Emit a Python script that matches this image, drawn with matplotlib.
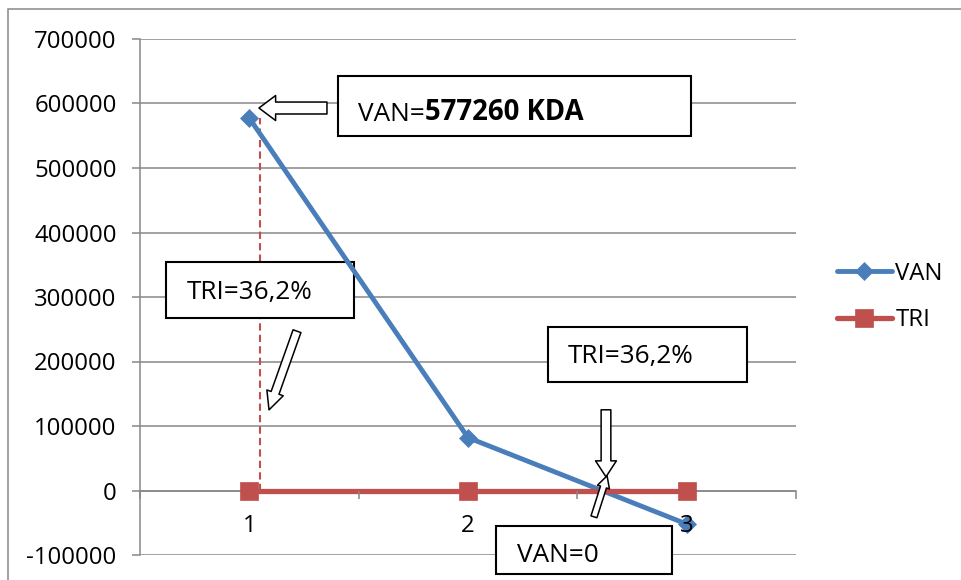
import matplotlib
matplotlib.use("Agg")
import matplotlib.pyplot as plt
from matplotlib.patches import Rectangle, FancyArrowPatch

plt.rcParams['font.family'] = ['Open Sans', 'DejaVu Sans']
plt.rcParams['axes.unicode_minus'] = False

periods = [1, 2, 3]
van = [577260, 82000, -52000]
tri = [0, 0, 0]
tri_text = "TRI=36,2%"

BLUE = "#4A7EBB"
RED = "#C0504D"
GREY = "#888888"

fig = plt.figure(figsize=(9.61, 5.8), dpi=100)
ax = fig.add_axes([140 / 961, 1 - 555 / 580, 656 / 961, 516 / 580])

ax.set_xlim(0.5, 3.5)
ax.set_ylim(-100000, 700000)
ax.set_yticks(range(-100000, 700001, 100000))
ax.set_xticks(periods)
ax.set_xticks([0.5, 1.5, 2.5, 3.5], minor=True)

for s in ['top', 'right']:
    ax.spines[s].set_visible(False)
ax.spines['left'].set_color(GREY)
ax.spines['left'].set_linewidth(1.1)
ax.spines['bottom'].set_position(('data', 0))
ax.spines['bottom'].set_color(GREY)
ax.spines['bottom'].set_linewidth(1.1)

ax.yaxis.grid(True, color=GREY, linewidth=1.1)
ax.tick_params(axis='y', length=5.8, width=1.1, color=GREY, pad=11, labelsize=17.3)
ax.tick_params(axis='x', which='major', length=0, pad=17, labelsize=17.3)
ax.tick_params(axis='x', which='minor', length=5.8, width=1.1, color=GREY, direction='out')
ax.xaxis.set_zorder(6)

# dashed guide at the first period
ax.vlines(1.05, 0, van[0], colors=RED, linestyles=(0, (3.5, 2)), linewidth=1.5, zorder=2)

ax.plot(periods, van, color=BLUE, linewidth=3.5, marker='D', markersize=9.5,
        markeredgewidth=0.5, label='VAN', zorder=4, solid_capstyle='round')
ax.plot(periods, tri, color=RED, linewidth=3.8, marker='s', markersize=13.5,
        markeredgewidth=0.5, label='TRI', zorder=4, solid_capstyle='round')

# annotation boxes
boxes = [
    (1.405, 550000, 1.615, 93000),
    (0.619, 267600, 0.860, 86800),
    (2.366, 168500, 0.910, 85300),
    (2.128, -130000, 0.805, 75300),
]
for x0, y0, w, h in boxes:
    ax.add_patch(Rectangle((x0, y0), w, h, facecolor='white', edgecolor='black',
                           linewidth=1.5, zorder=3, clip_on=False))

t = ax.text(1.497, 583000, "VAN=", fontsize=18.8, va='center', ha='left', zorder=5)
ax.annotate(f"{van[0]} KDA", xy=(1, 0), xycoords=t, va='bottom', ha='left',
            fontsize=19.8, fontweight='bold', zorder=5)
ax.text(0.715, 307600, tri_text, fontsize=18.8, va='center', ha='left', zorder=5)
ax.text(2.457, 207300, tri_text, fontsize=18.8, va='center', ha='left', zorder=5)
ax.text(2.224, -101000, "VAN=0", fontsize=18.8, va='center', ha='left', zorder=5,
        clip_on=False)

# block arrows
arrows = [
    ((1.355, 593000), (1.044, 593000), 8.6, 18, 12),
    ((1.218, 247000), (1.090, 125000), 6, 12.5, 13),
    ((2.631, 125100), (2.631, 21200), 7, 15, 11.5),
    ((2.576, -40800), (2.636, 22800), 4.5, 9, 8.5),
]
for tail, tip, tw, hw, hl in arrows:
    ax.add_patch(FancyArrowPatch(
        tail, tip,
        arrowstyle=f"simple,tail_width={tw},head_width={hw},head_length={hl}",
        facecolor='white', edgecolor='black', linewidth=1.1,
        shrinkA=0, shrinkB=0, mutation_scale=1, zorder=7, clip_on=False))

ax.legend(loc='center left', bbox_to_anchor=(815 / 961, 1 - 297 / 580),
          bbox_transform=fig.transFigure, frameon=False, fontsize=17.3,
          handlelength=2.3, handletextpad=0.15, labelspacing=0.95)

fig.add_artist(Rectangle((8 / 961, -0.1), 1.2, 1.1 - 9 / 580, transform=fig.transFigure,
                         fill=False, edgecolor=GREY, linewidth=1.1))

fig.savefig("out.png", dpi=100)
